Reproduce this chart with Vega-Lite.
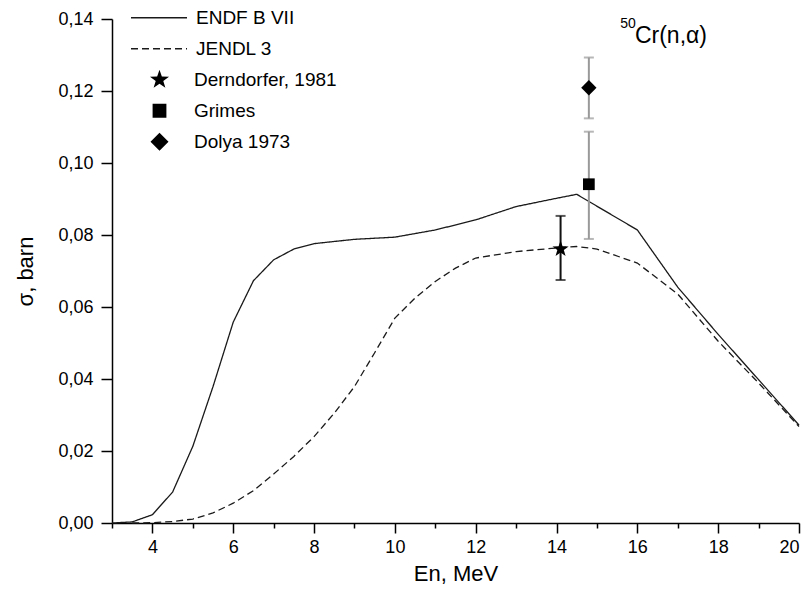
{
  "$schema": "https://vega.github.io/schema/vega-lite/v6.json",
  "width": 687,
  "height": 504,
  "autosize": {"type": "none"},
  "padding": {"left": 112, "top": 19, "right": 11, "bottom": 66},
  "background": "white",
  "config": {
    "view": {"stroke": null},
    "font": "Liberation Sans",
    "axis": {"grid": false, "ticks": true, "tickColor": "black", "tickWidth": 1.5, "domainColor": "black", "domainWidth": 1.5},
    "legend": {"padding": 0, "rowPadding": 0, "clipHeight": 30.5, "labelFont": "Liberation Sans", "labelFontSize": 19, "labelColor": "black", "orient": "none", "title": null}
  },
  "datasets": {
    "curves": [
      {"series": "ENDF B VII", "E": 3.0, "s": 0.0},
      {"series": "ENDF B VII", "E": 3.5, "s": 0.0003},
      {"series": "ENDF B VII", "E": 4.0, "s": 0.0023},
      {"series": "ENDF B VII", "E": 4.5, "s": 0.0086},
      {"series": "ENDF B VII", "E": 5.0, "s": 0.0213},
      {"series": "ENDF B VII", "E": 5.5, "s": 0.0379},
      {"series": "ENDF B VII", "E": 6.0, "s": 0.0558},
      {"series": "ENDF B VII", "E": 6.5, "s": 0.0673},
      {"series": "ENDF B VII", "E": 7.0, "s": 0.0731},
      {"series": "ENDF B VII", "E": 7.5, "s": 0.0761},
      {"series": "ENDF B VII", "E": 8.0, "s": 0.0776},
      {"series": "ENDF B VII", "E": 9.0, "s": 0.0788},
      {"series": "ENDF B VII", "E": 10.0, "s": 0.0794},
      {"series": "ENDF B VII", "E": 11.0, "s": 0.0814},
      {"series": "ENDF B VII", "E": 12.0, "s": 0.0842},
      {"series": "ENDF B VII", "E": 13.0, "s": 0.0879},
      {"series": "ENDF B VII", "E": 14.0, "s": 0.0902},
      {"series": "ENDF B VII", "E": 14.5, "s": 0.0913},
      {"series": "ENDF B VII", "E": 16.0, "s": 0.0814},
      {"series": "ENDF B VII", "E": 17.0, "s": 0.0655},
      {"series": "ENDF B VII", "E": 18.0, "s": 0.0524},
      {"series": "ENDF B VII", "E": 19.0, "s": 0.0398},
      {"series": "ENDF B VII", "E": 20.0, "s": 0.0272},
      {"series": "JENDL 3", "E": 3.5, "s": 0.0},
      {"series": "JENDL 3", "E": 4.0, "s": 0.0001},
      {"series": "JENDL 3", "E": 4.5, "s": 0.0004},
      {"series": "JENDL 3", "E": 5.0, "s": 0.0011},
      {"series": "JENDL 3", "E": 5.5, "s": 0.0028},
      {"series": "JENDL 3", "E": 6.0, "s": 0.0055},
      {"series": "JENDL 3", "E": 6.5, "s": 0.0090},
      {"series": "JENDL 3", "E": 7.0, "s": 0.0136},
      {"series": "JENDL 3", "E": 7.5, "s": 0.0185},
      {"series": "JENDL 3", "E": 8.0, "s": 0.0240},
      {"series": "JENDL 3", "E": 8.5, "s": 0.0305},
      {"series": "JENDL 3", "E": 9.0, "s": 0.0379},
      {"series": "JENDL 3", "E": 9.5, "s": 0.0473},
      {"series": "JENDL 3", "E": 10.0, "s": 0.0569},
      {"series": "JENDL 3", "E": 10.5, "s": 0.0625},
      {"series": "JENDL 3", "E": 11.0, "s": 0.0671},
      {"series": "JENDL 3", "E": 11.5, "s": 0.0708},
      {"series": "JENDL 3", "E": 12.0, "s": 0.0736},
      {"series": "JENDL 3", "E": 13.0, "s": 0.0754},
      {"series": "JENDL 3", "E": 14.0, "s": 0.0764},
      {"series": "JENDL 3", "E": 14.5, "s": 0.0768},
      {"series": "JENDL 3", "E": 15.0, "s": 0.0761},
      {"series": "JENDL 3", "E": 16.0, "s": 0.0722},
      {"series": "JENDL 3", "E": 17.0, "s": 0.0636},
      {"series": "JENDL 3", "E": 18.0, "s": 0.0505},
      {"series": "JENDL 3", "E": 19.0, "s": 0.0389},
      {"series": "JENDL 3", "E": 20.0, "s": 0.0268}
    ],
    "exp": [
      {"series": "Derndorfer, 1981", "E": 14.1, "s": 0.0761, "lo": 0.0675, "hi": 0.0853, "bar": "black"},
      {"series": "Grimes", "E": 14.8, "s": 0.0941, "lo": 0.0789, "hi": 0.1087, "bar": "gray"},
      {"series": "Dolya 1973", "E": 14.8, "s": 0.1209, "lo": 0.1124, "hi": 0.1293, "bar": "gray"}
    ],
    "note": [{"main": "Cr(n,α)", "sup": "50"}]
  },
  "layer": [
    {
      "data": {"name": "curves"},
      "mark": {"type": "line", "color": "#1a1a1a", "strokeWidth": 1.3},
      "encoding": {
        "x": {"field": "E", "type": "quantitative",
          "scale": {"domain": [3, 20], "nice": false, "zero": false},
          "axis": {"orient": "bottom", "values": [3, 4, 5, 6, 7, 8, 9, 10, 11, 12, 13, 14, 15, 16, 17, 18, 19, 20],
            "labelExpr": "datum.value % 2 == 0 ? datum.label : ''",
            "ticks": true,
            "tickSize": {"condition": {"test": "datum.value % 2 == 0", "value": 10}, "value": 5},
            "tickColor": "black", "tickWidth": 1.5,
            "domainColor": "black", "domainWidth": 1.5,
            "labelFontSize": 18, "labelColor": "black", "labelPadding": 5, "labelFont": "Liberation Sans", "labelOverlap": false,
            "title": "En, MeV", "titleFontSize": 22, "titleFontWeight": "normal", "titleColor": "black", "titlePadding": 7, "titleFont": "Liberation Sans"}},
        "y": {"field": "s", "type": "quantitative",
          "scale": {"domain": [0, 0.14], "nice": false, "zero": false},
          "axis": {"orient": "left", "values": [0, 0.01, 0.02, 0.03, 0.04, 0.05, 0.06, 0.07, 0.08, 0.09, 0.1, 0.11, 0.12, 0.13, 0.14],
            "labelExpr": "round(datum.value * 100) % 2 == 0 ? replace(format(datum.value, '.2f'), '.', ',') : ''",
            "ticks": true,
            "tickSize": {"condition": {"test": "round(datum.value * 100) % 2 == 0", "value": 11}, "value": 5},
            "tickColor": "black", "tickWidth": 1.5,
            "domainColor": "black", "domainWidth": 1.5,
            "labelFontSize": 18, "labelColor": "black", "labelPadding": 8, "labelFont": "Liberation Sans", "labelOverlap": false,
            "title": "σ, barn", "titleFontSize": 22, "titleFontWeight": "normal", "titleColor": "black", "titlePadding": 20, "titleFont": "Liberation Sans"}},
        "strokeDash": {"field": "series", "type": "nominal",
          "scale": {"domain": ["ENDF B VII", "JENDL 3"], "range": [[1, 0], [7, 4]]},
          "legend": {"legendX": 18, "legendY": -16.5, "symbolType": "stroke", "symbolSize": 3136, "symbolStrokeWidth": 1.3, "symbolStrokeColor": "#1a1a1a", "labelOffset": 8}}
      }
    },
    {
      "data": {"name": "exp"},
      "mark": {"type": "rule", "strokeWidth": 2},
      "encoding": {
        "x": {"field": "E", "type": "quantitative"},
        "y": {"field": "lo", "type": "quantitative"},
        "y2": {"field": "hi"},
        "color": {"field": "bar", "type": "nominal", "scale": {"domain": ["black", "gray"], "range": ["#111111", "#999999"]}, "legend": null}
      }
    },
    {
      "data": {"name": "exp"},
      "mark": {"type": "tick", "orient": "horizontal", "thickness": 2, "size": 10},
      "encoding": {
        "x": {"field": "E", "type": "quantitative"},
        "y": {"field": "lo", "type": "quantitative"},
        "color": {"field": "bar", "type": "nominal", "scale": {"domain": ["black", "gray"], "range": ["#111111", "#999999"]}, "legend": null}
      }
    },
    {
      "data": {"name": "exp"},
      "mark": {"type": "tick", "orient": "horizontal", "thickness": 2, "size": 10},
      "encoding": {
        "x": {"field": "E", "type": "quantitative"},
        "y": {"field": "hi", "type": "quantitative"},
        "color": {"field": "bar", "type": "nominal", "scale": {"domain": ["black", "gray"], "range": ["#111111", "#999999"]}, "legend": null}
      }
    },
    {
      "data": {"name": "exp"},
      "mark": {"type": "point", "filled": true, "color": "black", "opacity": 1, "strokeWidth": 0, "size": 289},
      "encoding": {
        "x": {"field": "E", "type": "quantitative"},
        "y": {"field": "s", "type": "quantitative"},
        "shape": {"field": "series", "type": "nominal",
          "scale": {"domain": ["Derndorfer, 1981", "Grimes", "Dolya 1973"],
            "range": ["M0,-1L0.235,-0.324L0.951,-0.309L0.380,0.124L0.588,0.809L0,0.4L-0.588,0.809L-0.380,0.124L-0.951,-0.309L-0.235,-0.324Z", "M-0.69,-0.69H0.69V0.69H-0.69Z", "M0,-0.9L0.9,0L0,0.9L-0.9,0Z"]},
          "legend": {"legendX": 37.5, "legendY": 45.5, "symbolSize": 400, "symbolFillColor": "black", "symbolStrokeWidth": 0, "labelOffset": 24.5}}
      }
    },
    {
      "data": {"name": "note"},
      "mark": {"type": "text", "align": "left", "baseline": "alphabetic", "fontSize": 23, "font": "Liberation Sans", "color": "black"},
      "encoding": {
        "x": {"datum": 15.94, "type": "quantitative"},
        "y": {"datum": 0.1334, "type": "quantitative"},
        "text": {"field": "main"}
      }
    },
    {
      "data": {"name": "note"},
      "mark": {"type": "text", "align": "right", "baseline": "alphabetic", "fontSize": 14, "font": "Liberation Sans", "color": "black"},
      "encoding": {
        "x": {"datum": 15.96, "type": "quantitative"},
        "y": {"datum": 0.1375, "type": "quantitative"},
        "text": {"field": "sup"}
      }
    }
  ]
}
